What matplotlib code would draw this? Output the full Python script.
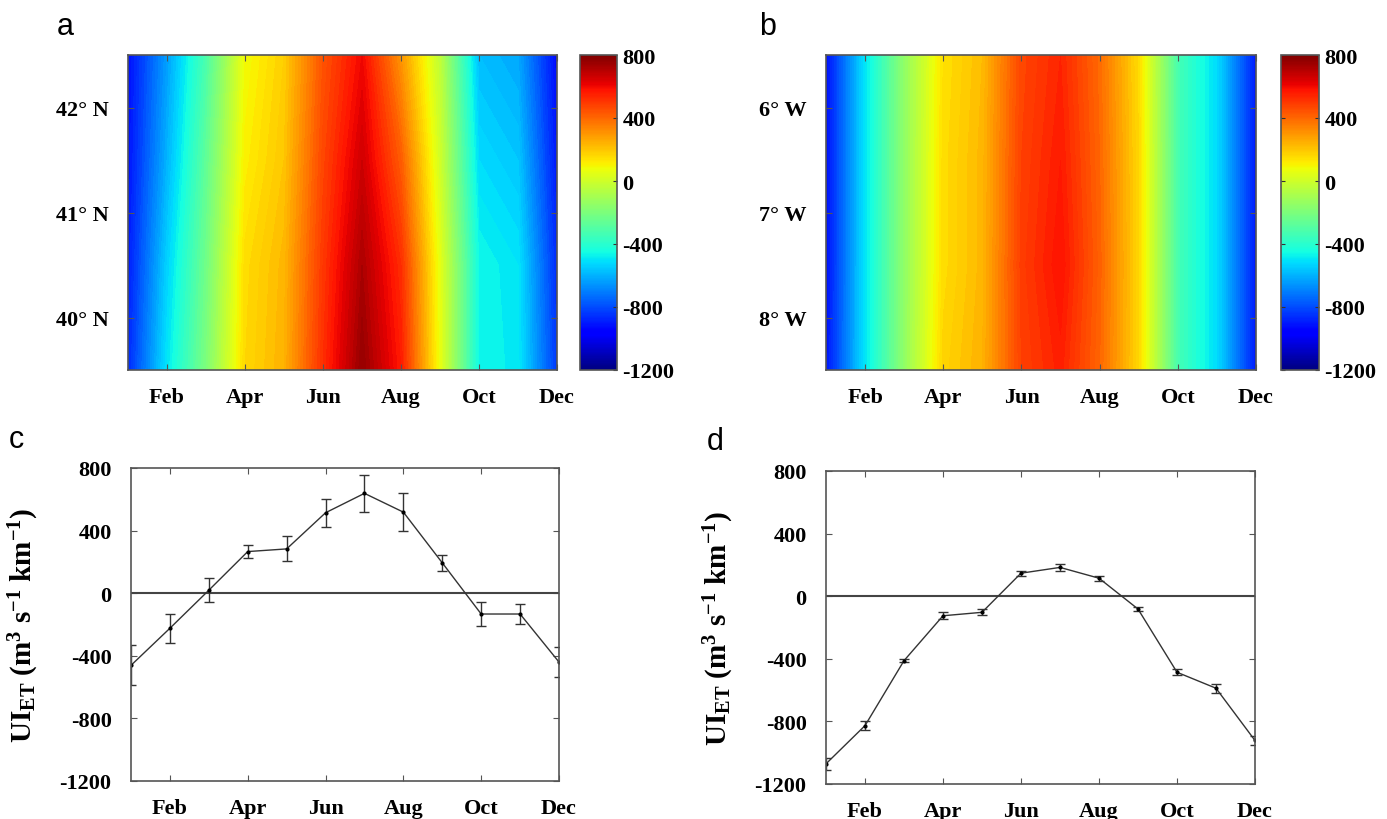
import numpy as np
import matplotlib
matplotlib.use('Agg')
import matplotlib.pyplot as plt
from matplotlib.colors import Normalize
from matplotlib.cm import ScalarMappable

plt.rcParams['font.family'] = 'Liberation Serif'
plt.rcParams['font.weight'] = 'bold'
plt.rcParams['axes.labelweight'] = 'bold'
plt.rcParams['axes.unicode_minus'] = False
plt.rcParams['mathtext.fontset'] = 'custom'
plt.rcParams['mathtext.rm'] = 'Liberation Serif:bold'
plt.rcParams['mathtext.it'] = 'Liberation Serif:bold'
plt.rcParams['mathtext.bf'] = 'Liberation Serif:bold'

months = np.arange(1, 13)
month_ticks = [2, 4, 6, 8, 10, 12]
month_labels = ['Feb', 'Apr', 'Jun', 'Aug', 'Oct', 'Dec']

lats = [39.5, 40.5, 41.5, 42.5]
ui_lat = [
    [-870, -500, -200, 160, 240, 520, 760, 560, 60, -460, -490, -840],
    [-900, -540, -230, 150, 230, 500, 720, 520, 50, -460, -500, -870],
    [-920, -600, -270, 110, 200, 470, 660, 420, 0, -520, -560, -910],
    [-930, -640, -320, 80, 180, 440, 600, 300, -40, -580, -620, -940],
]
lat_ticks = [40, 41, 42]
lat_labels = ['40\u00b0 N', '41\u00b0 N', '42\u00b0 N']

# panel b: longitude x month field
lons = [-8.5, -7.5, -6.5, -5.5]
ui_lon = [
    [-920, -500, -150, 170, 240, 480, 550, 400, 160, -330, -520, -900],
    [-930, -500, -150, 150, 230, 490, 580, 410, 160, -330, -520, -900],
    [-930, -500, -150, 150, 230, 480, 560, 400, 160, -330, -520, -900],
    [-930, -500, -150, 140, 220, 470, 540, 390, 150, -330, -520, -900],
]
lon_ticks = [-8, -7, -6]
lon_labels = ['8\u00b0 W', '7\u00b0 W', '6\u00b0 W']

# panel c / d: monthly mean and error
ui_c = [-461, -224, 19, 266, 283, 514, 638, 518, 194, -133, -133, -440]
err_c = [127, 92, 78, 43, 80, 88, 120, 120, 52, 75, 61, 95]
ui_d = [-1071, -827, -412, -125, -103, 147, 184, 115, -82, -486, -588, -922]
err_d = [40, 30, 8, 21, 19, 16, 21, 16, 14, 19, 30, 27]

cb_ticks = [800, 400, 0, -400, -800, -1200]
y_ticks = [800, 400, 0, -400, -800, -1200]

W, H = 1387, 820
fig = plt.figure(figsize=(W / 100, H / 100), dpi=100)

def px_axes(l, t, r, b):
    return fig.add_axes([l / W, 1 - b / H, (r - l) / W, (b - t) / H])

spine_col = '#555555'
fs = 16

def style(ax):
    for s in ax.spines.values():
        s.set_color(spine_col)
        s.set_linewidth(1.2)
    ax.tick_params(direction='in', top=True, right=True, length=4,
                   color=spine_col, labelsize=fs)
    ax.tick_params(axis='x', pad=12)
    ax.tick_params(axis='y', pad=14)

norm = Normalize(-1200, 800)
levels = np.linspace(-1200, 800, 101)

def field_panel(box, cbox, ys, z, yt, yl):
    ax = px_axes(*box)
    ax.contourf(months, ys, z, levels=levels, cmap='jet', norm=norm)
    ax.set_xlim(1, 12)
    ax.set_ylim(ys[0], ys[-1])
    ax.set_xticks(month_ticks, month_labels)
    ax.set_yticks(yt, yl)
    style(ax)
    cax = px_axes(*cbox)
    cb = fig.colorbar(ScalarMappable(norm=norm, cmap='jet'), cax=cax, ticks=cb_ticks)
    cb.outline.set_edgecolor(spine_col)
    cb.outline.set_linewidth(1.2)
    cax.tick_params(direction='in', left=True, right=True, length=3,
                    color='#333333', labelsize=fs, pad=4)
    return ax

field_panel((128, 56, 557, 371), (580, 56, 617, 371), lats, ui_lat, lat_ticks, lat_labels)
field_panel((826, 56, 1256, 371), (1281, 56, 1319, 371), lons, ui_lon, lon_ticks, lon_labels)

ylabel = 'UI$_{ET}$ (m$^3$ s$^{-1}$ km$^{-1}$)'

def line_panel(box, y, e, label_x):
    ax = px_axes(*box)
    ax.axhline(0, color='#444444', lw=1.5)
    ax.errorbar(months, y, yerr=e, color='#333333', lw=1, elinewidth=1,
                capsize=3.5, capthick=1, marker='.', ms=4, mfc='black', mec='black')
    ax.set_xlim(1, 12)
    ax.set_ylim(-1200, 800)
    ax.set_xticks(month_ticks, month_labels)
    ax.set_yticks(y_ticks)
    style(ax)
    ax.set_ylabel(ylabel, fontsize=21, fontweight='bold')
    ax.yaxis.set_label_coords(label_x, 0.5)
    return ax

line_panel((131, 469, 559, 782), ui_c, err_c, -(131 - 41) / 428)
line_panel((826, 472, 1255, 785), ui_d, err_d, -(826 - 736) / 429)

for lab, x, y in [('a', 57, 35), ('b', 759, 35), ('c', 9, 448), ('d', 707, 450)]:
    fig.text(x / W, 1 - y / H, lab, fontsize=22, family='Liberation Sans',
             weight='normal', ha='left', va='baseline')

fig.savefig('out.png', dpi=100)
